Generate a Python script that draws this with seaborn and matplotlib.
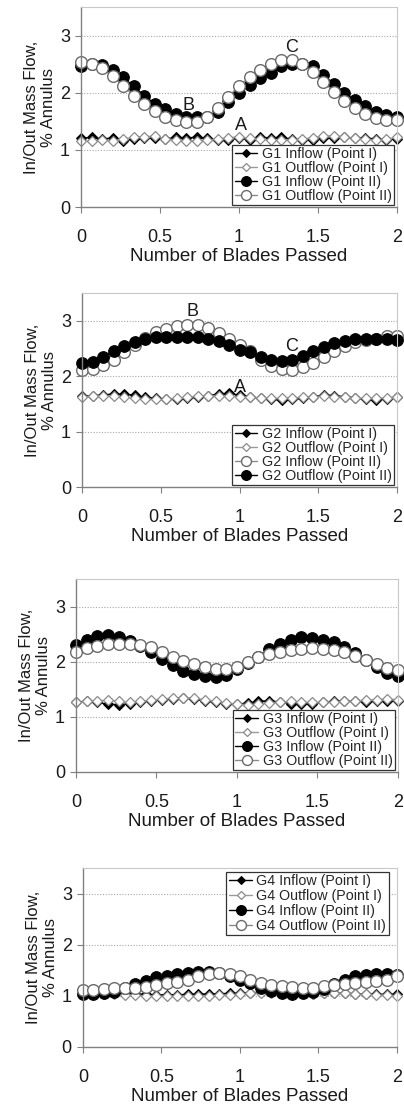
import numpy as np
import matplotlib
matplotlib.use("Agg")
import matplotlib.pyplot as plt
import seaborn as sns

# blade passing positions (31 samples, 1/15 blade apart)
blades = [i / 15 for i in range(31)]

# G1
g1_in_I = [1.20, 1.22, 1.19, 1.21, 1.15, 1.19, 1.20, 1.21, 1.19, 1.22, 1.21, 1.22, 1.20, 1.17, 1.18, 1.20,
           1.18, 1.22, 1.21, 1.22, 1.19, 1.17, 1.18, 1.20, 1.21, 1.22, 1.20, 1.21, 1.19, 1.18, 1.19]
g1_out_I = [1.16, 1.15, 1.17, 1.16, 1.19, 1.22, 1.23, 1.24, 1.19, 1.17, 1.16, 1.16, 1.17, 1.19, 1.21, 1.23,
            1.20, 1.19, 1.17, 1.17, 1.18, 1.19, 1.21, 1.24, 1.25, 1.22, 1.20, 1.19, 1.17, 1.19, 1.22]
g1_in_II = [2.46, 2.50, 2.48, 2.40, 2.27, 2.11, 1.95, 1.81, 1.71, 1.62, 1.58, 1.57, 1.58, 1.67, 1.84, 1.99,
            2.13, 2.25, 2.35, 2.46, 2.51, 2.50, 2.46, 2.31, 2.16, 2.00, 1.87, 1.77, 1.67, 1.61, 1.58]
g1_out_II = [2.53, 2.51, 2.43, 2.29, 2.12, 1.95, 1.80, 1.68, 1.58, 1.52, 1.49, 1.49, 1.58, 1.74, 1.93, 2.12,
             2.27, 2.40, 2.50, 2.58, 2.58, 2.50, 2.37, 2.19, 2.02, 1.85, 1.73, 1.63, 1.56, 1.52, 1.52]

# G2
g2_in_I = [1.64, 1.65, 1.66, 1.68, 1.67, 1.66, 1.62, 1.60, 1.59, 1.59, 1.60, 1.62, 1.65, 1.68, 1.69, 1.66,
           1.63, 1.60, 1.58, 1.57, 1.58, 1.60, 1.63, 1.66, 1.65, 1.63, 1.61, 1.58, 1.57, 1.59, 1.62]
g2_out_I = [1.63, 1.64, 1.65, 1.64, 1.62, 1.60, 1.58, 1.58, 1.58, 1.60, 1.62, 1.64, 1.65, 1.65, 1.64, 1.63,
            1.62, 1.61, 1.60, 1.60, 1.61, 1.62, 1.63, 1.64, 1.63, 1.62, 1.61, 1.60, 1.60, 1.61, 1.62]
g2_in_II = [2.12, 2.13, 2.21, 2.30, 2.43, 2.57, 2.69, 2.79, 2.86, 2.91, 2.93, 2.93, 2.87, 2.78, 2.67, 2.56,
            2.45, 2.30, 2.19, 2.13, 2.12, 2.16, 2.24, 2.35, 2.45, 2.55, 2.62, 2.66, 2.68, 2.72, 2.73]
g2_out_II = [2.24, 2.26, 2.35, 2.45, 2.55, 2.62, 2.68, 2.71, 2.71, 2.71, 2.71, 2.71, 2.67, 2.63, 2.56, 2.48,
             2.43, 2.35, 2.30, 2.28, 2.30, 2.36, 2.45, 2.53, 2.60, 2.64, 2.67, 2.67, 2.67, 2.67, 2.66]

# G3
g3_in_I = [1.27, 1.28, 1.26, 1.23, 1.22, 1.24, 1.26, 1.29, 1.31, 1.33, 1.34, 1.32, 1.29, 1.26, 1.24, 1.23,
           1.25, 1.28, 1.29, 1.27, 1.24, 1.23, 1.24, 1.26, 1.28, 1.29, 1.28, 1.27, 1.28, 1.29, 1.28]
g3_out_I = [1.26, 1.28, 1.29, 1.30, 1.28, 1.26, 1.28, 1.30, 1.32, 1.34, 1.35, 1.34, 1.31, 1.28, 1.25, 1.23,
            1.22, 1.23, 1.25, 1.27, 1.28, 1.27, 1.26, 1.26, 1.27, 1.28, 1.29, 1.30, 1.31, 1.32, 1.31]
g3_in_II = [2.30, 2.40, 2.46, 2.48, 2.44, 2.38, 2.29, 2.18, 2.05, 1.94, 1.83, 1.77, 1.74, 1.73, 1.76, 1.86,
            1.98, 2.09, 2.23, 2.32, 2.40, 2.44, 2.43, 2.40, 2.35, 2.26, 2.15, 2.03, 1.90, 1.79, 1.74]
g3_out_II = [2.18, 2.24, 2.29, 2.32, 2.32, 2.32, 2.30, 2.26, 2.18, 2.09, 2.01, 1.95, 1.90, 1.86, 1.86, 1.91,
             1.99, 2.09, 2.14, 2.18, 2.21, 2.23, 2.24, 2.23, 2.21, 2.17, 2.11, 2.03, 1.95, 1.88, 1.85]

# G4
g4_in_I = [1.05, 1.04, 1.05, 1.06, 1.05, 1.04, 1.03, 1.02, 1.02, 1.02, 1.03, 1.03, 1.04, 1.04, 1.05, 1.05,
           1.06, 1.07, 1.07, 1.06, 1.06, 1.05, 1.04, 1.05, 1.06, 1.05, 1.04, 1.04, 1.03, 1.03, 1.03]
g4_out_I = [1.06, 1.05, 1.04, 1.03, 1.02, 1.01, 1.00, 0.99, 0.99, 0.99, 0.99, 0.99, 1.00, 1.01, 1.02, 1.03,
            1.05, 1.06, 1.06, 1.06, 1.05, 1.05, 1.04, 1.05, 1.06, 1.05, 1.04, 1.03, 1.02, 1.01, 1.00]
g4_in_II = [1.04, 1.04, 1.05, 1.08, 1.15, 1.23, 1.30, 1.36, 1.39, 1.42, 1.44, 1.46, 1.46, 1.44, 1.39, 1.32,
            1.25, 1.15, 1.10, 1.05, 1.04, 1.05, 1.08, 1.13, 1.23, 1.31, 1.38, 1.41, 1.42, 1.42, 1.41]
g4_out_II = [1.12, 1.12, 1.13, 1.15, 1.15, 1.15, 1.18, 1.21, 1.25, 1.28, 1.32, 1.38, 1.42, 1.44, 1.42, 1.38,
             1.31, 1.26, 1.21, 1.19, 1.18, 1.16, 1.16, 1.19, 1.21, 1.23, 1.25, 1.28, 1.30, 1.32, 1.38]

x_ticks = [0, 0.5, 1, 1.5, 2]
x_tick_labels = ["0", "0.5", "1", "1.5", "2"]
y_ticks = [0, 1, 2, 3]

# annotation letters per panel: (text, x, y)
notes = {
    0: [("A", 1.01, 1.42), ("B", 0.68, 1.77), ("C", 1.335, 2.79)],
    1: [("A", 1.0, 1.80), ("B", 0.70, 3.16), ("C", 1.33, 2.54)],
}

panels = [
    ("G1", [g1_in_I, g1_out_I, g1_in_II, g1_out_II], False),
    ("G2", [g2_in_I, g2_out_I, g2_in_II, g2_out_II], True),
    ("G3", [g3_in_I, g3_out_I, g3_in_II, g3_out_II], False),
    ("G4", [g4_in_I, g4_out_I, g4_in_II, g4_out_II], False),
]

rects = [
    [0.2005, 0.8140, 0.7822, 0.1797],
    [0.2030, 0.5624, 0.7797, 0.1743],
    [0.1881, 0.3064, 0.7970, 0.1734],
    [0.2054, 0.0593, 0.7772, 0.1608],
]

sns.set_style("white")
plt.rcParams["font.family"] = ["Liberation Sans", "DejaVu Sans"]

diamond_black = dict(marker="D", markersize=4.6, color="black", markerfacecolor="black",
                     markeredgecolor="black", linewidth=1.0)
diamond_open = dict(marker="D", markersize=4.6, color="#9a9a9a", markerfacecolor="white",
                    markeredgecolor="#8a8a8a", markeredgewidth=0.9, linewidth=1.0)
circle_black = dict(marker="o", markersize=8.4, color="black", markerfacecolor="black",
                    markeredgecolor="black", linewidth=1.0)
circle_open = dict(marker="o", markersize=8.4, color="#8a8a8a", markerfacecolor="white",
                   markeredgecolor="#6a6a6a", markeredgewidth=1.0, linewidth=1.0)

fig = plt.figure(figsize=(4.04, 11.13), dpi=100)

for idx, (name, series, swapped) in enumerate(panels):
    ax = fig.add_axes(rects[idx])

    labels = [f"{name} Inflow (Point I)", f"{name} Outflow (Point I)",
              f"{name} Inflow (Point II)", f"{name} Outflow (Point II)"]
    if swapped:
        styles = [diamond_black, diamond_open, circle_open, circle_black]
    else:
        styles = [diamond_black, diamond_open, circle_black, circle_open]

    for vals, lab, st in zip(series, labels, styles):
        sns.lineplot(x=blades, y=vals, ax=ax, label=lab, clip_on=False, **st)

    ax.set_xlim(0, 2)
    ax.set_ylim(0, 3.5)
    ax.set_xticks(x_ticks)
    ax.set_xticklabels(x_tick_labels)
    ax.set_yticks(y_ticks)

    for gy in [1, 2, 3]:
        ax.axhline(gy, color="#a8a8a8", linestyle=(0, (1, 1.5)), linewidth=0.8, zorder=0)

    for side in ["left", "bottom"]:
        ax.spines[side].set_color("#808080")
        ax.spines[side].set_linewidth(1.0)
    for side in ["top", "right"]:
        ax.spines[side].set_color("#c8c8c8")
        ax.spines[side].set_linewidth(0.8)

    ax.tick_params(axis="x", direction="out", length=4, color="#808080",
                   labelsize=13, pad=12, labelcolor="#1a1a1a", bottom=True)
    ax.tick_params(axis="y", direction="out", length=4, color="#808080",
                   labelsize=13, pad=4, labelcolor="#1a1a1a", left=True)

    ax.set_xlabel("Number of Blades Passed", fontsize=13.5, labelpad=1, color="#1a1a1a")
    ax.set_ylabel("In/Out Mass Flow,\n% Annulus", fontsize=12, labelpad=3,
                  color="#1a1a1a", linespacing=1.15)

    for txt, tx, ty in notes.get(idx, []):
        ax.text(tx, ty, txt, fontsize=13, ha="center", va="center", color="#1a1a1a")

    if idx == 3:
        leg = ax.legend(loc="upper right", bbox_to_anchor=(0.975, 0.98), fontsize=10.3,
                        frameon=True, fancybox=False, borderpad=0.2, labelspacing=0.05,
                        handlelength=1.6, handletextpad=0.3, borderaxespad=0.0,
                        markerscale=0.85)
    else:
        leg = ax.legend(loc="lower right", bbox_to_anchor=(0.99, 0.01), fontsize=10.3,
                        frameon=True, fancybox=False, borderpad=0.15, labelspacing=0.0,
                        handlelength=1.6, handletextpad=0.3, borderaxespad=0.0,
                        markerscale=0.85)
    leg.get_frame().set_edgecolor("#333333")
    leg.get_frame().set_linewidth(0.9)
    leg.get_frame().set_alpha(1.0)

fig.savefig("out.png", dpi=100)
